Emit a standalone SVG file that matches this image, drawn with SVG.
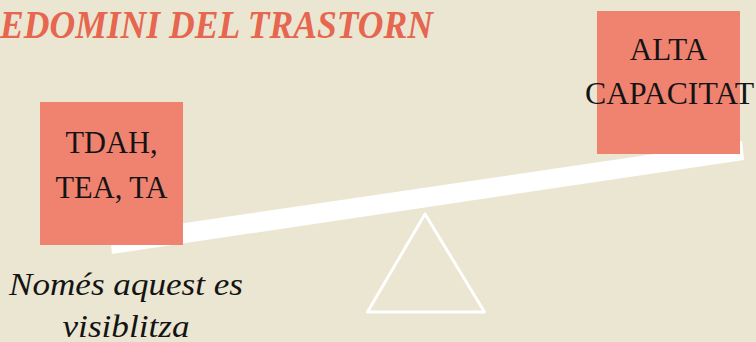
<svg xmlns="http://www.w3.org/2000/svg" width="756" height="342" viewBox="0 0 756 342">
<style>
.box{fill:#F08270}
.lbl{font-family:"Liberation Serif","Times New Roman",serif;font-size:31px;fill:#141414;text-anchor:middle}
.title{font-family:"Liberation Serif","Times New Roman",serif;font-size:39px;font-weight:bold;font-style:italic;fill:#E6664F}
.note{font-family:"Liberation Serif","Times New Roman",serif;font-size:32px;font-style:italic;fill:#141414;text-anchor:middle}
</style>
<rect width="756" height="342" fill="#EBE6D1"/>
<text class="title" x="0" y="38" textLength="433" lengthAdjust="spacingAndGlyphs">EDOMINI DEL TRASTORN</text>
<g id="connectors">
<polygon points="110,234 742,141 744,160 112,254" fill="#FFFFFF"/>
<polygon points="425,214 367.5,312 484.5,312" fill="none" stroke="#FFFFFF" stroke-width="3" stroke-linejoin="round"/>
</g>
<g id="node-tdah">
<rect class="box" x="40" y="102" width="143" height="143"/>
<text class="lbl" x="111.5" y="153" textLength="92" lengthAdjust="spacingAndGlyphs">TDAH,</text>
<text class="lbl" x="111.5" y="198" textLength="112" lengthAdjust="spacingAndGlyphs">TEA, TA</text>
</g>
<g id="node-alta">
<rect class="box" x="597" y="11" width="143" height="143"/>
<text class="lbl" x="668.5" y="60">ALTA</text>
<text class="lbl" x="669.5" y="104" textLength="169" lengthAdjust="spacingAndGlyphs">CAPACITAT</text>
</g>
<g id="note">
<text class="note" x="126" y="295" textLength="234" lengthAdjust="spacingAndGlyphs">Només aquest es</text>
<text class="note" x="126" y="337" textLength="127" lengthAdjust="spacingAndGlyphs">visiblitza</text>
</g>
</svg>
